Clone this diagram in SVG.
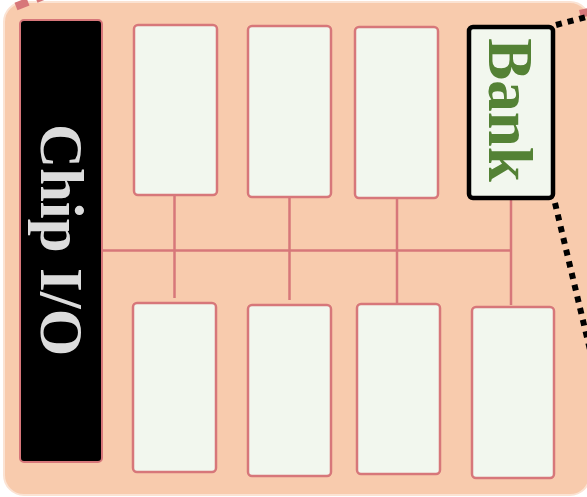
<svg xmlns="http://www.w3.org/2000/svg" width="587" height="497" viewBox="0 0 587 497">
  <style>
    .bank { fill: #F2F7EE; stroke: #D7777A; stroke-width: 2.5; }
    .wire { stroke: #D7777A; stroke-width: 2.5; fill: none; }
    .dots { stroke: #000; stroke-width: 6; stroke-dasharray: 6 6; fill: none; }
    .pink { stroke: #D7777A; stroke-width: 8; fill: none; }
    .lbl { font-family: "Liberation Serif", "Times New Roman", serif; font-weight: bold; text-anchor: middle; }
  </style>
  <rect id="bg" x="4" y="2" width="586" height="493" rx="20" fill="#F8CBAD" stroke="#FBE3D3" stroke-width="2"/>
  <g id="decor">
    <line class="pink" x1="16" y1="6.5" x2="28" y2="1.8"/>
    <line class="pink" x1="36" y1="-1" x2="46" y2="-5"/>
    <line class="pink" x1="580" y1="14" x2="592" y2="11"/>
  </g>
  <g id="connectors">
    <line class="wire" x1="102" y1="250.5" x2="511" y2="250.5"/>
    <line class="wire" x1="174.5" y1="195" x2="174.5" y2="298"/>
    <line class="wire" x1="289.5" y1="197" x2="289.5" y2="300"/>
    <line class="wire" x1="397" y1="198" x2="397" y2="303"/>
    <line class="wire" x1="511" y1="200" x2="511" y2="305"/>
    <line class="dots" x1="556" y1="25" x2="590" y2="16"/>
    <line class="dots" x1="555" y1="203" x2="590" y2="350"/>
  </g>
  <g id="chip-io">
    <rect x="20" y="20" width="82" height="442" rx="4" fill="#000" stroke="#D7777A" stroke-width="2"/>
    <text class="lbl" font-size="61" fill="#DCDCDC" transform="translate(41,240) rotate(90)">Chip I/O</text>
  </g>
  <g id="bank-t1"><rect class="bank" x="134" y="25" width="83" height="170" rx="4"/></g>
  <g id="bank-t2"><rect class="bank" x="248" y="26" width="83" height="171" rx="4"/></g>
  <g id="bank-t3"><rect class="bank" x="355" y="27" width="83" height="171" rx="4"/></g>
  <g id="bank-t4">
    <rect x="469" y="27" width="84" height="171" rx="4" fill="#F2F7EE" stroke="#000" stroke-width="4.5"/>
    <text class="lbl" font-size="63" fill="#548235" transform="translate(489,110) rotate(90)">Bank</text>
  </g>
  <g id="bank-b1"><rect class="bank" x="133" y="303" width="83" height="169" rx="4"/></g>
  <g id="bank-b2"><rect class="bank" x="248" y="305" width="83" height="171" rx="4"/></g>
  <g id="bank-b3"><rect class="bank" x="357" y="304" width="83" height="170" rx="4"/></g>
  <g id="bank-b4"><rect class="bank" x="472" y="307" width="82" height="171" rx="4"/></g>
</svg>
